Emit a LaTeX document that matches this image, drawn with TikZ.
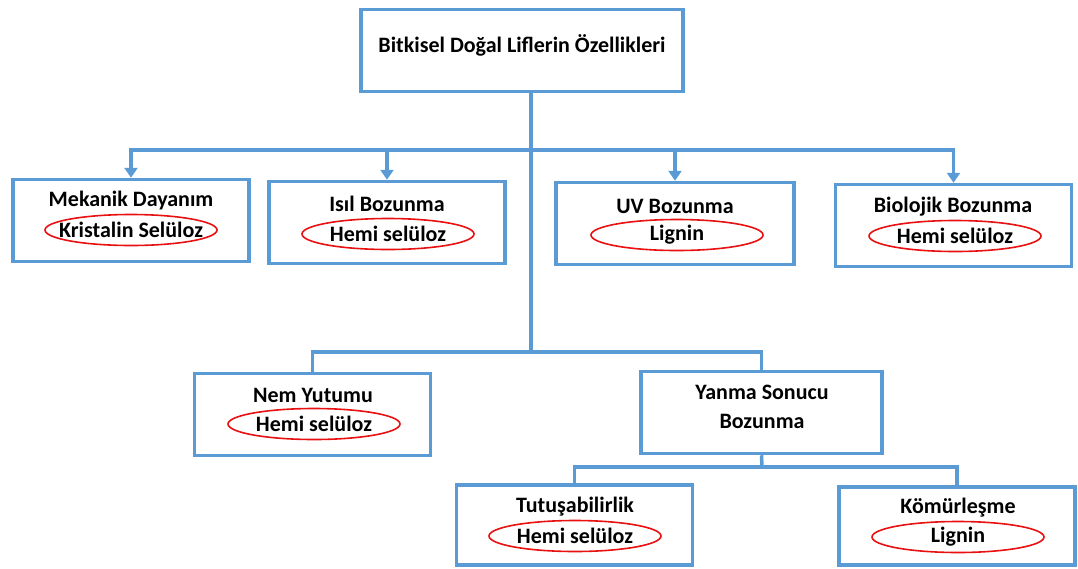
\documentclass[tikz,border=0pt]{standalone}
\usepackage{fontspec}
\setmainfont{Carlito}
\usetikzlibrary{arrows.meta}
\definecolor{boxblue}{RGB}{91,155,213}
\definecolor{ovalred}{RGB}{232,16,16}
\begin{document}
\begin{tikzpicture}[x=1pt, y=-1pt, font=\fontsize{22}{26}\selectfont\bfseries,
  box/.style={draw=boxblue, line width=3.5pt, inner sep=0pt, minimum width=236pt, minimum height=82pt},
  oval/.style={draw=ovalred, line width=1.6pt},
  conn/.style={draw=boxblue, line width=3.5pt},
  arr/.style={conn, -{Triangle[width=13pt,length=10pt]}}]
\useasboundingbox (0,0) rectangle (1078,568);

\node[box, minimum width=322pt] (root) at (522,50.5) {};
\node (roott) at (522,45) {Bitkisel Doğal Liflerin Özellikleri};

\node[box] (mech) at (131,220.5) {};
\node (mecht) at (131,201) {Mekanik Dayanım};
\node (mecho) at (131,230) {Kristalin Selüloz};

\node[box] (isil) at (387,222.5) {};
\node (isilt) at (387,204) {Isıl Bozunma};
\node (isilo) at (388,234) {Hemi selüloz};

\node[box, minimum width=238pt] (uv) at (675,223.5) {};
\node (uvt) at (675,206) {UV Bozunma};
\node (uvo) at (677,235) {Lignin};

\node[box] (bio) at (953.5,225.5) {};
\node (biot) at (953,207) {Biolojik Bozunma};
\node (bioo) at (955,236) {Hemi selüloz};

\node[box] (nem) at (312.5,414.5) {};
\node (nemt) at (313,395) {Nem Yutumu};
\node (nemo) at (314,424) {Hemi selüloz};

\node[box, minimum width=241pt] (yanma) at (761.5,412.5) {};
\node (yanmat) at (762,392) {Yanma Sonucu};
\node (yanmab) at (762,421) {Bozunma};

\node[box, minimum height=80pt] (tut) at (574.5,525) {};
\node (tutt) at (575,507) {Tutuşabilirlik};
\node (tuto) at (575,536) {Hemi selüloz};

\node[box, minimum height=78pt] (kom) at (957,526) {};
\node (komt) at (958,508) {Kömürleşme};
\node (komo) at (958,537) {Lignin};

% red rings round the main component
\foreach \o in {mecho,isilo,uvo,bioo,nemo,tuto,komo}
  \draw[oval] (\o.center) ellipse [x radius=86, y radius=15.5];

\coordinate (j1) at (531,150);
\coordinate (j2) at (531,352);
\coordinate (j3) at (762,467);

\draw[conn] (root.south -| j1)--(j2);
\draw[conn, line cap=rect] (mech.north |- j1)--(bio.north |- j1);
\draw[arr] (mech.north |- j1)--(mech.north);
\draw[arr] (isil.north |- j1)--(isil.north);
\draw[arr] (uv.north |- j1)--(uv.north);
\draw[arr] (bio.north |- j1)--(bio.north);
\draw[conn] (nem.north) |- (j2) -| (yanma.north);
\draw[conn] (yanma.south)--(j3);
\draw[conn] (tut.north) |- (j3) -| (kom.north);
\end{tikzpicture}
\end{document}
